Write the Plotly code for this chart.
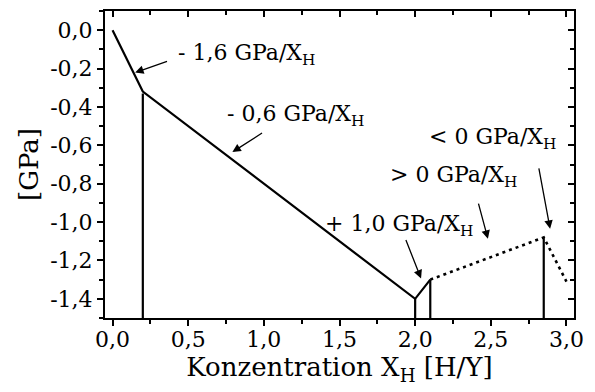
import plotly.graph_objects as go

# ---- data ----
main_x = [0.0, 0.2, 2.0, 2.1]
main_y = [0.0, -0.32, -1.40, -1.30]
dotted_x = [2.1, 2.85, 3.0]
dotted_y = [-1.30, -1.08, -1.31]
drop_x = [0.2, 2.0, 2.1, 2.85]
drop_top = [-0.33, -1.40, -1.30, -1.08]

x_ticks = [0.0, 0.5, 1.0, 1.5, 2.0, 2.5, 3.0]
x_ticklabels = ["0,0", "0,5", "1,0", "1,5", "2,0", "2,5", "3,0"]
y_ticks = [0.0, -0.2, -0.4, -0.6, -0.8, -1.0, -1.2, -1.4]
y_ticklabels = ["0,0", "-0,2", "-0,4", "-0,6", "-0,8", "-1,0", "-1,2", "-1,4"]

x_range = [-0.05, 3.05]
y_range = [-1.5, 0.1]

labels = ["- 1,6 GPa/X<sub>H</sub>", "- 0,6 GPa/X<sub>H</sub>", "+ 1,0 GPa/X<sub>H</sub>",
          "> 0 GPa/X<sub>H</sub>", "< 0 GPa/X<sub>H</sub>"]
label_x = [0.42, 0.74, 1.39, 1.82, 2.08]
label_y = [-0.125, -0.445, -1.017, -0.765, -0.563]
arrow_tip_x = [0.149, 0.792, 2.039, 2.481, 2.892]
arrow_tip_y = [-0.221, -0.635, -1.294, -1.087, -1.035]
arrow_tail_x = [0.370, 0.998, 1.935, 2.416, 2.816]
arrow_tail_y = [-0.160, -0.531, -1.086, -0.896, -0.713]

FONT = "DejaVu Serif"

# build drop lines with None separators
vx, vy = [], []
for x, t in zip(drop_x, drop_top):
    vx += [x, x, None]
    vy += [t, y_range[0], None]

fig = go.Figure()
fig.add_trace(go.Scatter(x=main_x, y=main_y, mode="lines",
                         line=dict(color="black", width=2.2), showlegend=False, hoverinfo="skip"))
fig.add_trace(go.Scatter(x=vx, y=vy, mode="lines",
                         line=dict(color="black", width=2.2), showlegend=False, hoverinfo="skip"))
fig.add_trace(go.Scatter(x=dotted_x, y=dotted_y, mode="lines",
                         line=dict(color="black", width=2.6, dash="3px,4px"),
                         showlegend=False, hoverinfo="skip"))
fig.add_trace(go.Scatter(x=[None], y=[None], xaxis="x2", yaxis="y2",
                         showlegend=False, hoverinfo="skip"))

for t, x, y in zip(labels, label_x, label_y):
    fig.add_annotation(x=x, y=y, xref="x", yref="y", text=t, showarrow=False,
                       xanchor="left", yanchor="middle",
                       font=dict(family=FONT, size=22, color="black"))
for tx, ty, ax, ay in zip(arrow_tip_x, arrow_tip_y, arrow_tail_x, arrow_tail_y):
    fig.add_annotation(x=tx, y=ty, xref="x", yref="y", ax=ax, ay=ay,
                       axref="x", ayref="y", text="", showarrow=True,
                       arrowhead=2, arrowsize=1.3, arrowwidth=1.3, arrowcolor="black")

axis_common = dict(showgrid=False, zeroline=False, linecolor="black", linewidth=2,
                   tickcolor="black", tickwidth=1.5, ticklen=6)

fig.update_layout(
    width=595, height=392,
    margin=dict(l=105, r=13, t=11, b=74),
    paper_bgcolor="white", plot_bgcolor="white",
    font=dict(family=FONT, size=22, color="black"),
    xaxis=dict(range=x_range, tickvals=x_ticks, ticktext=x_ticklabels,
               ticks="outside", showline=True, ticklabelstandoff=-5,
               minor=dict(dtick=0.25, tick0=0, ticks="outside", ticklen=4,
                          tickcolor="black", tickwidth=1.5),
               title=dict(text="Konzentration X<sub>H</sub> [H/Y]",
                          font=dict(family=FONT, size=26), standoff=5),
               tickfont=dict(family=FONT, size=22), **axis_common),
    yaxis=dict(range=y_range, tickvals=y_ticks, ticktext=y_ticklabels,
               ticks="outside", showline=True,
               minor=dict(dtick=0.1, tick0=0, ticks="outside", ticklen=4,
                          tickcolor="black", tickwidth=1.5),
               title=dict(text="[GPa]", font=dict(family=FONT, size=26), standoff=4),
               tickfont=dict(family=FONT, size=22), **axis_common),
    xaxis2=dict(range=x_range, overlaying="x", side="top", anchor="y",
                tickvals=x_ticks, showticklabels=False, ticks="inside", showline=True,
                minor=dict(dtick=0.25, tick0=0, ticks="inside", ticklen=4,
                           tickcolor="black", tickwidth=1.5),
                **axis_common),
    yaxis2=dict(range=y_range, overlaying="y", side="right", anchor="x",
                tickvals=y_ticks, showticklabels=False, ticks="inside", showline=True,
                minor=dict(dtick=0.1, tick0=0, ticks="inside", ticklen=4,
                           tickcolor="black", tickwidth=1.5),
                **axis_common),
)

fig.write_html("out.html")
